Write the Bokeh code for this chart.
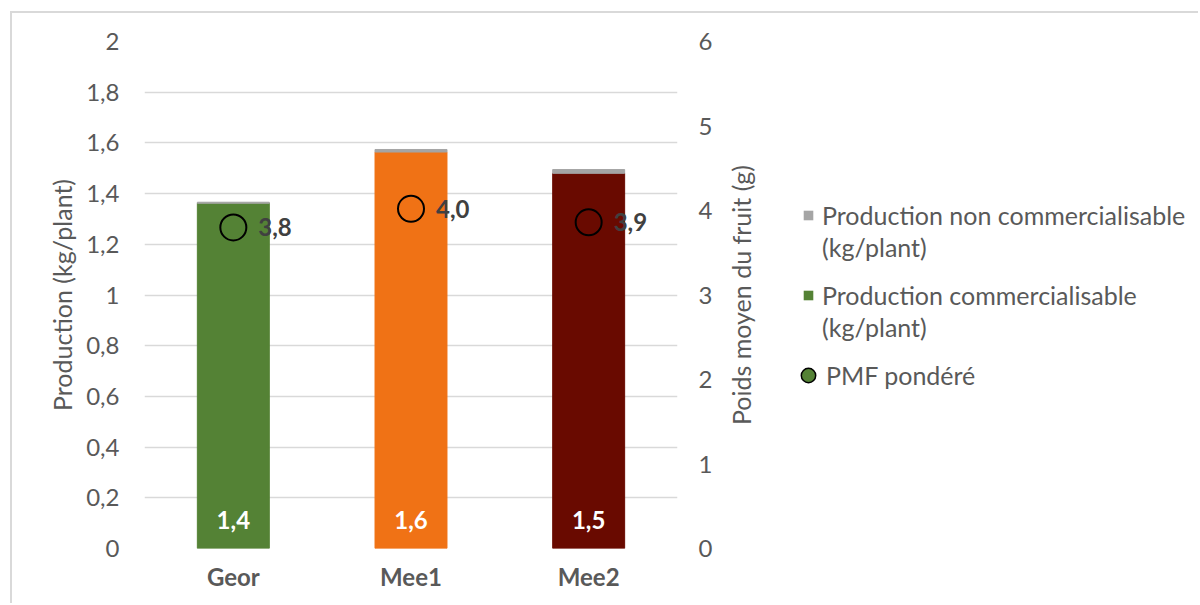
import math
from bokeh.plotting import figure
from bokeh.layouts import row
from bokeh.models import (FactorRange, Range1d, LinearAxis, FixedTicker, CustomJSTickFormatter,
                          Legend, LegendItem, ColumnDataSource, Label)
from bokeh.core.properties import value
from bokeh.embed import file_html
from bokeh.resources import INLINE

categories = ["Geor", "Mee1", "Mee2"]
prod_comm = [1.362, 1.564, 1.480]
prod_non_comm = [0.004, 0.010, 0.015]
pmf = [3.80, 4.02, 3.86]
bar_colors = ["#548235", "#F07215", "#690A00"]
nc_color = "#A5A5A5"
left_ticks = [0, 0.2, 0.4, 0.6, 0.8, 1.0, 1.2, 1.4, 1.6, 1.8, 2.0]
right_ticks = [0, 1, 2, 3, 4, 5, 6]
right_title = "Poids moyen du fruit (g)"

FONT = "Lato"
TXT = "#595959"
FS = "24px"
FS_T = "25px"

def fmt(v):
    return f"{v:.1f}".replace(".", ",")

src = ColumnDataSource(dict(
    cat=categories,
    comm=prod_comm,
    top_total=[a + b for a, b in zip(prod_comm, prod_non_comm)],
    color=bar_colors,
    pmf=pmf,
    comm_lbl=[fmt(v) for v in prod_comm],
    pmf_lbl=[fmt(v) for v in pmf],
    zero=[0] * len(categories),
))

# ---------------- main chart ----------------
W1, H = 710, 590
p = figure(x_range=FactorRange(*categories, range_padding=0), y_range=Range1d(0, 2),
           width=W1, height=H, output_backend="svg", toolbar_location=None,
           min_border_left=132, min_border_right=W1 - 665, min_border_top=28, min_border_bottom=H - 535)
p.outline_line_color = None
p.background_fill_color = "white"
p.border_fill_color = "white"
p.extra_y_ranges = {"pmf": Range1d(0, 6)}

p.vbar(x="cat", bottom="zero", top="comm", width=0.405, color="color", source=src)
p.vbar(x="cat", bottom="comm", top="top_total", width=0.405, color=nc_color, source=src)

p.text(x="cat", y="zero", text="comm_lbl", source=src, text_color="white",
       text_font=value(FONT), text_font_style="bold", text_font_size=FS,
       text_align="center", text_baseline="middle", y_offset=-29)

p.scatter(x="cat", y="pmf", y_range_name="pmf", source=src, marker="circle", size=26,
          fill_alpha=0, line_color="black", line_width=2)
p.text(x="cat", y="pmf", y_range_name="pmf", text="pmf_lbl", source=src, text_color="#404040",
       text_font=value(FONT), text_font_style="bold", text_font_size=FS,
       text_align="left", text_baseline="middle", x_offset=25)

p.yaxis.ticker = FixedTicker(ticks=left_ticks)
p.yaxis.formatter = CustomJSTickFormatter(code="return (Math.round(tick*10)/10).toString().replace('.', ',');")
p.yaxis.axis_label = "Production (kg/plant)"

right = LinearAxis(y_range_name="pmf", ticker=FixedTicker(ticks=right_ticks))
p.add_layout(right, "right")

for ax in [p.yaxis[0], right]:
    ax.axis_line_color = None
    ax.major_tick_line_color = None
    ax.minor_tick_line_color = None
    ax.major_label_text_font = FONT
    ax.major_label_text_font_size = FS
    ax.major_label_text_color = TXT
    ax.axis_label_text_font = FONT
    ax.axis_label_text_font_size = FS_T
    ax.axis_label_text_font_style = "normal"
    ax.axis_label_text_color = TXT
p.yaxis[0].major_label_standoff = 19
p.yaxis[0].axis_label_standoff = 6
right.major_label_standoff = 15

p.xaxis.axis_line_color = None
p.xaxis.major_tick_line_color = None
p.xaxis.major_label_text_font = FONT
p.xaxis.major_label_text_font_size = FS
p.xaxis.major_label_text_font_style = "bold"
p.xaxis.major_label_text_color = TXT
p.xaxis.major_label_standoff = 7

p.xgrid.grid_line_color = None
p.ygrid.ticker = FixedTicker(ticks=left_ticks)
p.ygrid.grid_line_color = "#D9D9D9"
p.ygrid.grid_line_width = 1.5

# ---------------- right title + legend panel ----------------
W2 = 1186 - W1
q = figure(x_range=FactorRange(*categories), y_range=Range1d(100, 101), width=W2, height=H,
           output_backend="svg", toolbar_location=None, x_axis_location=None, y_axis_location=None,
           min_border=0)
q.outline_line_color = None
q.grid.visible = False
g_nc = q.vbar(x="cat", bottom="comm", top="comm", width=0, fill_color=nc_color, line_alpha=0, source=src)
g_comm = q.vbar(x="cat", bottom="comm", top="comm", width=0, fill_color=bar_colors[0], line_alpha=0, source=src)
g_blank = q.scatter(x="cat", y="pmf", source=src, fill_alpha=0, line_alpha=0)
g_pmf = q.scatter(x="cat", y="pmf", source=src, marker="circle",
                  fill_color=bar_colors[0], line_color="black", line_width=1.5)

q.add_layout(Label(x=18, y=253.5, x_units="screen", y_units="screen", text=right_title,
                   angle=math.pi / 2, text_align="center", text_baseline="middle",
                   text_font=FONT, text_font_size=FS_T, text_color=TXT))

def make_legend(items, loc, glyph):
    lg = Legend(items=items, location=loc)
    lg.border_line_color = None
    lg.background_fill_alpha = 0
    lg.label_text_font = FONT
    lg.label_text_font_size = FS_T
    lg.label_text_color = TXT
    lg.glyph_width = glyph
    lg.glyph_height = glyph
    lg.padding = 0
    lg.margin = 0
    lg.spacing = 2
    lg.label_standoff = 8 if glyph < 20 else 0
    q.add_layout(lg, "center")
    return lg

make_legend([LegendItem(label="Production non commercialisable", renderers=[g_nc]),
             LegendItem(label="(kg/plant)", renderers=[g_blank])], (80, 286), 12)
make_legend([LegendItem(label="Production commercialisable", renderers=[g_comm]),
             LegendItem(label="(kg/plant)", renderers=[g_blank])], (80, 206), 12)
make_legend([LegendItem(label="PMF pondéré", renderers=[g_pmf])], (68, 155), 36)

layout = row(p, q, styles={"margin-left": "10px", "margin-top": "11px",
                           "border-left": "2px solid #D9D9D9", "border-top": "2px solid #D9D9D9"})

open("out.html", "w").write(file_html(layout, INLINE))
